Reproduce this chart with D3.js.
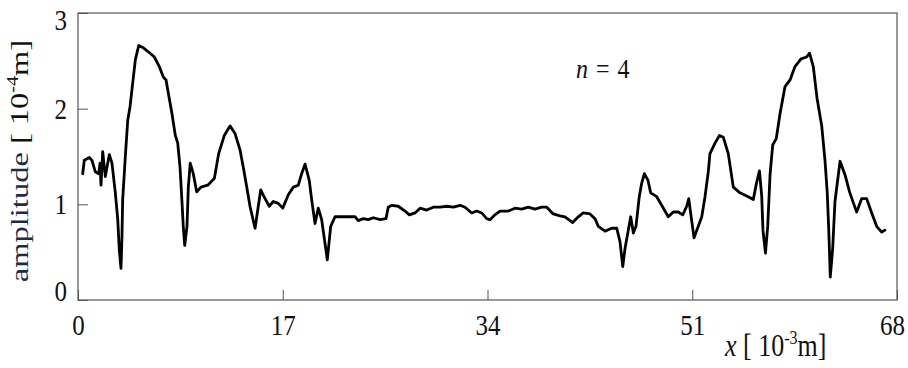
<!DOCTYPE html>
<html>
<head>
<meta charset="utf-8">
<script src="https://cdn.jsdelivr.net/npm/d3@7"></script>
<style>
  html, body { margin: 0; padding: 0; background: #fff; }
  svg { display: block; }
</style>
</head>
<body>
<svg id="chart" width="908" height="368"></svg>
<script>
// Position along the specimen, x [10^-3 m]
const xPos = [
  0.39, 0.52, 0.94, 1.16, 1.44, 1.72, 1.83, 1.91, 2.05, 2.27, 2.60, 2.82, 3.10, 3.30, 3.43, 3.57,
  3.65, 3.71, 3.93, 4.13, 4.32, 4.48, 4.76, 5.04, 5.37, 5.79, 6.34, 6.75, 7.08, 7.31, 7.53, 7.80,
  8.08, 8.28, 8.47, 8.64, 8.74, 8.86, 9.05, 9.16, 9.32, 9.57, 9.86, 10.21, 10.77, 11.32, 11.68, 12.15,
  12.62, 13.04, 13.45, 13.72, 14.01, 14.28, 14.70, 14.97, 15.17, 15.44, 15.88, 16.22, 16.63, 17.00, 17.46, 17.88,
  18.29, 18.57, 18.85, 19.20, 19.40, 19.68, 19.95, 20.23, 20.51, 20.70, 20.98, 21.34, 23.00, 23.27, 23.69, 24.10,
  24.52, 25.08, 25.57, 25.76, 26.05, 26.59, 27.15, 27.51, 27.98, 28.40, 28.95, 29.50, 30.06, 30.61, 31.16, 31.72,
  32.13, 32.69, 33.10, 33.52, 33.93, 34.21, 34.62, 35.04, 35.73, 36.28, 36.84, 37.39, 37.95, 38.50, 38.92, 39.46,
  40.02, 40.43, 41.07, 41.54, 41.95, 42.51, 42.93, 43.20, 43.76, 44.31, 44.73, 45.00, 45.23, 45.42, 45.69, 45.89,
  46.11, 46.33, 46.60, 46.80, 47.02, 47.33, 47.55, 48.05, 48.46, 49.01, 49.43, 49.84, 50.21, 50.54, 50.71, 50.94,
  51.15, 51.50, 51.79, 52.06, 52.33, 52.47, 52.89, 53.26, 53.58, 53.99, 54.41, 54.96, 55.65, 56.07, 56.33, 56.58,
  56.77, 56.87, 57.08, 57.27, 57.46, 57.68, 57.98, 58.29, 58.70, 59.12, 59.53, 60.03, 60.50, 60.74, 61.05, 61.36,
  61.75, 62.02, 62.21, 62.34, 62.46, 62.66, 62.85, 63.27, 63.68, 64.06, 64.39, 64.65, 65.07, 65.48, 65.90, 66.31,
  66.73, 67.00
];

// Vibration amplitude [10^-4 m] for mode n = 4
const amplitude = [
  1.32, 1.46, 1.49, 1.46, 1.34, 1.32, 1.43, 1.20, 1.55, 1.29, 1.52, 1.43, 1.12, 0.84, 0.52, 0.33,
  0.66, 1.05, 1.50, 1.88, 2.02, 2.20, 2.51, 2.66, 2.64, 2.60, 2.54, 2.44, 2.33, 2.30, 2.14, 1.95,
  1.72, 1.64, 1.39, 1.01, 0.77, 0.57, 0.77, 1.18, 1.43, 1.32, 1.13, 1.18, 1.20, 1.27, 1.53, 1.72,
  1.82, 1.74, 1.57, 1.39, 1.18, 0.98, 0.75, 0.98, 1.15, 1.08, 0.98, 1.03, 1.01, 0.96, 1.10, 1.18,
  1.20, 1.32, 1.42, 1.25, 1.05, 0.80, 0.96, 0.84, 0.59, 0.42, 0.77, 0.87, 0.87, 0.83, 0.85, 0.84,
  0.86, 0.84, 0.85, 0.97, 0.99, 0.98, 0.93, 0.89, 0.91, 0.96, 0.94, 0.97, 0.97, 0.98, 0.97, 0.99,
  0.97, 0.91, 0.93, 0.91, 0.85, 0.84, 0.89, 0.93, 0.93, 0.96, 0.95, 0.97, 0.95, 0.97, 0.97, 0.90,
  0.88, 0.87, 0.81, 0.87, 0.91, 0.90, 0.85, 0.77, 0.72, 0.75, 0.75, 0.61, 0.35, 0.54, 0.73, 0.87,
  0.70, 0.77, 1.08, 1.22, 1.32, 1.25, 1.12, 1.08, 0.99, 0.87, 0.92, 0.92, 0.89, 0.98, 1.06, 0.84,
  0.65, 0.77, 0.87, 1.08, 1.34, 1.53, 1.64, 1.72, 1.70, 1.53, 1.18, 1.12, 1.08, 1.05, 1.22, 1.35,
  1.08, 0.73, 0.49, 0.78, 1.31, 1.62, 1.69, 1.95, 2.23, 2.30, 2.44, 2.52, 2.54, 2.58, 2.44, 2.11,
  1.82, 1.46, 1.12, 0.71, 0.24, 0.54, 1.03, 1.45, 1.31, 1.13, 1.01, 0.92, 1.06, 1.06, 0.91, 0.77,
  0.71, 0.73
];

const xTicks = [0, 17, 34, 51, 68];
const yTicks = [0, 1, 2, 3];

const SERIF = '"Liberation Serif", "Times New Roman", serif';
const STRETCH = 1.18;   // tall, narrow lettering

const svg = d3.select("#chart");
const frame = { left: 78, right: 897, top: 13, bottom: 300 };

const x = d3.scaleLinear().domain([0, 68]).range([frame.left, frame.right]);
const y = d3.scaleLinear().domain([0, 3]).range([frame.bottom, frame.top]);

// Axes with inward ticks
const xAxis = svg.append("g")
  .attr("transform", `translate(0,${frame.bottom})`)
  .call(d3.axisBottom(x).tickValues(xTicks).tickSize(-10).tickPadding(12).tickFormat(d3.format("d")));
const yAxis = svg.append("g")
  .attr("transform", `translate(${frame.left},0)`)
  .call(d3.axisLeft(y).tickValues(yTicks).tickSize(-10).tickPadding(11).tickFormat(d3.format("d")));

[xAxis, yAxis].forEach(g => {
  g.select(".domain").remove();
  g.selectAll(".tick line").attr("stroke", "#555").attr("stroke-width", 1);
  g.selectAll(".tick text")
    .attr("fill", "#111")
    .attr("transform", `scale(1,${STRETCH})`)
    .style("font-family", SERIF)
    .style("font-size", "25px");
});
// keep the end labels inside the frame corners
xAxis.selectAll(".tick text").filter(d => d === 68).attr("dx", -5);
yAxis.selectAll(".tick text").filter(d => d === 3).attr("dy", "0.55em");
yAxis.selectAll(".tick text").filter(d => d === 0).attr("dy", "0.02em");

// Plot frame
svg.append("rect")
  .attr("x", frame.left).attr("y", frame.top)
  .attr("width", frame.right - frame.left).attr("height", frame.bottom - frame.top)
  .attr("fill", "none").attr("stroke", "#555").attr("stroke-width", 1.2);

// Amplitude curve
const pts = xPos.map((v, i) => [v, amplitude[i]]);
svg.append("path")
  .datum(pts)
  .attr("fill", "none")
  .attr("stroke", "#000")
  .attr("stroke-width", 2.8)
  .attr("stroke-linejoin", "round")
  .attr("stroke-linecap", "round")
  .attr("d", d3.line().x(d => x(d[0])).y(d => y(d[1])));

// Mode label
const nLabel = svg.append("text")
  .attr("transform", `translate(576,78) scale(1,${STRETCH})`)
  .attr("fill", "#111")
  .style("font-family", SERIF)
  .style("font-size", "24px")
  .style("word-spacing", "2px");
nLabel.append("tspan").style("font-style", "italic").text("n");
nLabel.append("tspan").text(" = 4");

// x-axis title
const xTitle = svg.append("text")
  .attr("transform", `translate(725,356) scale(1,${STRETCH})`)
  .attr("fill", "#111")
  .style("font-family", SERIF)
  .style("font-size", "26px");
xTitle.append("tspan").style("font-style", "italic").text("x");
xTitle.append("tspan").text(" [ 10");
xTitle.append("tspan").attr("dy", -10).style("font-size", "16px").text("-3");
xTitle.append("tspan").attr("dy", 10).text("m]");

// y-axis title (reads bottom to top)
const yTitle = svg.append("text")
  .attr("transform", `translate(28,161) scale(1,1.25) rotate(-90)`)
  .attr("text-anchor", "middle")
  .attr("fill", "#111")
  .style("font-family", SERIF)
  .style("font-size", "26px");
yTitle.append("tspan").attr("fill", "#1d2b4a").text("amplitude");
yTitle.append("tspan").text(" [ 10");
yTitle.append("tspan").attr("dy", -10).style("font-size", "16px").text("-4");
yTitle.append("tspan").attr("dy", 10).text("m]");
</script>
</body>
</html>
